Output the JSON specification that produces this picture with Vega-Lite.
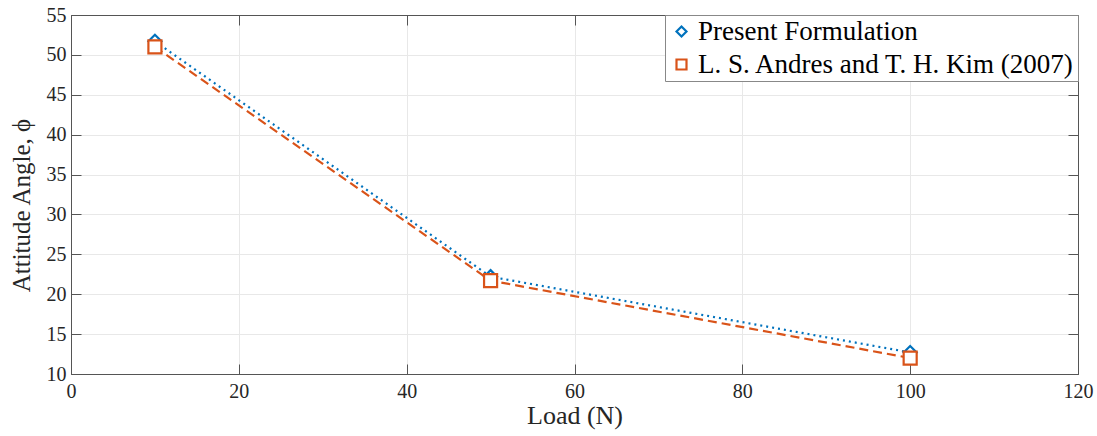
{
  "$schema": "https://vega.github.io/schema/vega-lite/v6.json",
  "autosize": {"type": "none"},
  "width": 1007,
  "height": 359,
  "padding": {"left": 71, "top": 15, "right": 19, "bottom": 62},
  "background": "white",
  "config": {
    "font": "Liberation Serif",
    "view": {"stroke": "#555555", "strokeWidth": 1},
    "axis": {
      "labelFont": "Liberation Serif",
      "titleFont": "Liberation Serif",
      "labelFontSize": 20,
      "titleFontSize": 26,
      "labelColor": "#262626",
      "titleColor": "#262626",
      "titleFontWeight": "normal",
      "domainColor": "#555555",
      "tickColor": "#555555",
      "gridColor": "#e8e8e8",
      "gridOpacity": 1
    }
  },
  "data": {
    "values": [
      {"load": 10, "angle": 51.7, "series": "Present Formulation"},
      {"load": 50, "angle": 22.2, "series": "Present Formulation"},
      {"load": 100, "angle": 12.7, "series": "Present Formulation"},
      {"load": 10, "angle": 51.0, "series": "L. S. Andres and T. H. Kim (2007)"},
      {"load": 50, "angle": 21.7, "series": "L. S. Andres and T. H. Kim (2007)"},
      {"load": 100, "angle": 12.0, "series": "L. S. Andres and T. H. Kim (2007)"}
    ]
  },
  "layer": [
    {
      "transform": [{"filter": "datum.series === 'Present Formulation'"}],
      "mark": {"type": "line", "strokeWidth": 2.2, "color": "#0072BD", "strokeDash": [2, 4]},
      "encoding": {
        "x": {"field": "load", "type": "quantitative",
              "scale": {"domain": [0, 120], "nice": false, "zero": false},
              "axis": {"values": [0, 20, 40, 60, 80, 100, 120], "title": "Load (N)", "tickSize": -10, "labelPadding": 17, "titlePadding": 1, "grid": true, "labelFlush": false}},
        "y": {"field": "angle", "type": "quantitative",
              "scale": {"domain": [10, 55], "nice": false, "zero": false},
              "axis": {"values": [10, 15, 20, 25, 30, 35, 40, 45, 50, 55], "title": "Attitude Angle, ϕ", "titleFontSize": 25, "titleY": 190, "tickSize": -10, "labelPadding": 15, "titlePadding": 12, "grid": true, "labelFlush": false}}
      }
    },
    {
      "transform": [{"filter": "datum.series !== 'Present Formulation'"}],
      "mark": {"type": "line", "strokeWidth": 2.2, "color": "#D95319", "strokeDash": [9, 5]},
      "encoding": {
        "x": {"field": "load", "type": "quantitative", "axis": null},
        "y": {"field": "angle", "type": "quantitative", "axis": null}
      }
    },
    {
      "mark": {"type": "point", "filled": false, "fill": "white", "fillOpacity": 1, "strokeWidth": 2.2, "size": 170, "opacity": 1},
      "encoding": {
        "x": {"field": "load", "type": "quantitative",
              "axis": {"orient": "top", "values": [0, 20, 40, 60, 80, 100, 120], "labels": false, "title": null, "tickSize": -10, "grid": false}},
        "y": {"field": "angle", "type": "quantitative",
              "axis": {"orient": "right", "values": [10, 15, 20, 25, 30, 35, 40, 45, 50, 55], "labels": false, "title": null, "tickSize": -10, "grid": false}},
        "color": {"field": "series", "type": "nominal",
                  "scale": {"domain": ["Present Formulation", "L. S. Andres and T. H. Kim (2007)"], "range": ["#0072BD", "#D95319"]},
                  "legend": {"title": null, "orient": "top-right", "offset": 0, "labelFont": "Liberation Serif", "labelFontSize": 27, "labelColor": "#000000", "fillColor": "white", "strokeColor": "#888888", "padding": 3, "rowPadding": 5, "symbolSize": 100, "symbolStrokeWidth": 2.2, "symbolFillColor": "white", "symbolOffset": 0, "labelLimit": 500, "labelOffset": 3}},
        "shape": {"field": "series", "type": "nominal",
                  "scale": {"domain": ["Present Formulation", "L. S. Andres and T. H. Kim (2007)"], "range": ["diamond", "square"]},
                  "legend": {"title": null, "orient": "top-right", "offset": 0, "labelFont": "Liberation Serif", "labelFontSize": 27, "labelColor": "#000000", "fillColor": "white", "strokeColor": "#888888", "padding": 3, "rowPadding": 5, "symbolSize": 100, "symbolStrokeWidth": 2.2, "symbolFillColor": "white", "symbolOffset": 0, "labelLimit": 500, "labelOffset": 3}}
      }
    }
  ],
  "resolve": {"axis": {"x": "independent", "y": "independent"}}
}
